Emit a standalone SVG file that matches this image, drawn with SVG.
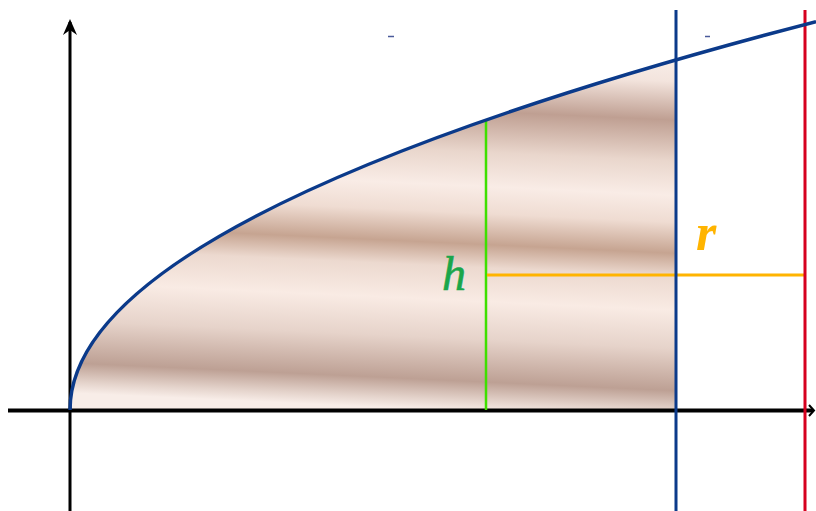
<svg xmlns="http://www.w3.org/2000/svg" width="816" height="511" viewBox="0 0 816 511">
  <defs>
    <linearGradient id="bands" gradientUnits="userSpaceOnUse" x1="676" y1="60" x2="659.4" y2="420">
      <stop offset="0" stop-color="#f8ede8"/>
      <stop offset="0.06" stop-color="#f3e4dd"/>
      <stop offset="0.167" stop-color="#bf9f92"/>
      <stop offset="0.28" stop-color="#e9d6cc"/>
      <stop offset="0.375" stop-color="#f9ece6"/>
      <stop offset="0.45" stop-color="#efdcd2"/>
      <stop offset="0.536" stop-color="#c6a491"/>
      <stop offset="0.6" stop-color="#ecd9cf"/>
      <stop offset="0.694" stop-color="#f9ebe4"/>
      <stop offset="0.8" stop-color="#e6d3ca"/>
      <stop offset="0.917" stop-color="#bda094"/>
      <stop offset="0.97" stop-color="#e4d3cb"/>
      <stop offset="1" stop-color="#f8ede8"/>
    </linearGradient>
  </defs>
  <style>
    .axis { stroke: #000; fill: none; }
    .txt { font-family: "Liberation Serif", "DejaVu Serif", serif; font-style: italic; }
  </style>
  <rect x="0" y="0" width="816" height="511" fill="#ffffff"/>

  <g id="region">
    <path d="M70,410 Q70,234.95 676,59.9 L676,410 Z" fill="url(#bands)"/>
  </g>

  <g id="connectors">
    <line class="axis" x1="8" y1="410.5" x2="813" y2="410.5" stroke-width="4"/>
    <path class="axis" d="M809,405 L814,410.5 L809,416" stroke-width="2"/>
    <line class="axis" x1="70" y1="22" x2="70" y2="511" stroke-width="3" stroke="#222"/>
    <path d="M70,19 L77,35 L70,30 L63,35 Z" fill="#000"/>
    <line x1="486" y1="120" x2="486" y2="410" stroke="#3ee000" stroke-width="2.5"/>
    <line x1="487" y1="275" x2="805" y2="275" stroke="#ffb400" stroke-width="3"/>
    <line x1="676" y1="10" x2="676" y2="511" stroke="#0b3a8a" stroke-width="3"/>
    <line x1="805" y1="10" x2="805" y2="511" stroke="#d6001f" stroke-width="3"/>
    <path d="M70,410 Q70,215.8 816,21.6" fill="none" stroke="#0b3a8a" stroke-width="3.5"/>
    <line x1="388" y1="36.5" x2="394" y2="36.5" stroke="#4a5a9a" stroke-width="1.5"/>
    <line x1="705" y1="36.5" x2="710" y2="36.5" stroke="#4a5a9a" stroke-width="1.5"/>
  </g>

  <g id="label-h">
    <text class="txt" x="442" y="290" font-size="48" fill="#1aa64a" stroke="#1aa64a" stroke-width="0.6">h</text>
  </g>
  <g id="label-r">
    <text class="txt" x="696" y="250" font-size="52" font-weight="bold" fill="#ffb400">r</text>
  </g>
</svg>
